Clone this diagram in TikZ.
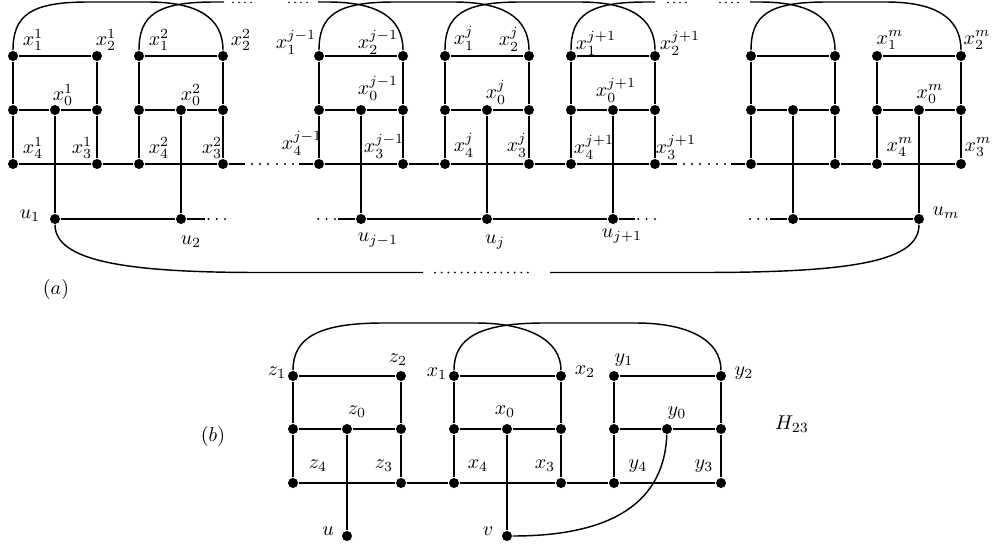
\documentclass[tikz,border=0pt]{standalone}
\tikzset{
  vtx/.style={circle,fill=black,inner sep=0pt,minimum size=5pt},
  lab/.style={inner sep=0pt},
}
% one gadget of the chain in (a): #1 prefix, #2 x of the left column
\newcommand\gadgetA[2]{%
  \node[vtx] (#1-1) at (#2,56) {};
  \node[vtx] (#1-2) at (#2+84,56) {};
  \node[vtx] (#1-l) at (#2,110) {};
  \node[vtx] (#1-0) at (#2+42,110) {};
  \node[vtx] (#1-r) at (#2+84,110) {};
  \node[vtx] (#1-4) at (#2,164) {};
  \node[vtx] (#1-3) at (#2+84,164) {};
  \node[vtx] (#1-u) at (#2+42,219) {};
  \draw (#1-1) -- (#1-2) (#1-1) -- (#1-l) -- (#1-4)
        (#1-2) -- (#1-r) -- (#1-3) (#1-l) -- (#1-0) -- (#1-r)
        (#1-0) -- (#1-u);
}
% one gadget in (b): #1 prefix, #2 left x, #3 middle x, #4 right x
\newcommand\gadgetB[4]{%
  \node[vtx] (#1-1) at (#2,376) {};
  \node[vtx] (#1-2) at (#4,376) {};
  \node[vtx] (#1-l) at (#2,429) {};
  \node[vtx] (#1-0) at (#3,429) {};
  \node[vtx] (#1-r) at (#4,429) {};
  \node[vtx] (#1-4) at (#2,483) {};
  \node[vtx] (#1-3) at (#4,483) {};
  \draw (#1-1) -- (#1-2) (#1-1) -- (#1-l) -- (#1-4)
        (#1-2) -- (#1-r) -- (#1-3) (#1-l) -- (#1-0) -- (#1-r);
}
% a row of dots: #1 first x, #2 y, #3 number of gaps, #4 spacing, #5 radius
\newcommand\dotgroup[5]{%
  \foreach \k in {0,...,#3} \fill (#1+\k*#4,#2) circle (#5);
}
\begin{document}
\begin{tikzpicture}[x=0.5pt,y=-0.5pt,line width=0.72pt]
\useasboundingbox (0,0) rectangle (992,547);

% ---------------- (a) ----------------
\gadgetA{a1}{13}
\gadgetA{a2}{139}
\gadgetA{ajm}{319}
\gadgetA{aj}{445}
\gadgetA{ajp}{571}
\gadgetA{amm}{751}
\gadgetA{am}{877}

% free ends of the cut connectors
\coordinate (ta) at (224,2);
\coordinate (tb) at (318,2);
\coordinate (tc) at (655,2);
\coordinate (td) at (750,2);
\coordinate (ra) at (245,164);
\coordinate (rb) at (299,164);
\coordinate (rc) at (677,164);
\coordinate (rd) at (731,164);
\coordinate (ua) at (205,219);
\coordinate (ub) at (338,219);
\coordinate (uc) at (635,219);
\coordinate (ud) at (770,219);
\coordinate (la) at (423,272.5);
\coordinate (lb) at (550,272.5);

% bottom row
\draw (a1-4) -- (a1-3) -- (a2-4) -- (a2-3) -- (ra);
\draw (rb) -- (ajm-4) -- (ajm-3) -- (aj-4) -- (aj-3) -- (ajp-4) -- (ajp-3) -- (rc);
\draw (rd) -- (amm-4) -- (amm-3) -- (am-4) -- (am-3);
\dotgroup{252}{164}{2}{8}{0.55pt}
\dotgroup{277}{164}{2}{8}{0.55pt}
\dotgroup{684}{164}{2}{8}{0.55pt}
\dotgroup{709}{164}{2}{8}{0.55pt}

% row of the u vertices
\draw (a1-u) -- (a2-u) -- (ua);
\draw (ub) -- (ajm-u) -- (aj-u) -- (ajp-u) -- (uc);
\draw (ud) -- (amm-u) -- (am-u);
\dotgroup{208.5}{219}{2}{8.3}{0.55pt}
\dotgroup{318.3}{219}{2}{8.3}{0.55pt}
\dotgroup{638.3}{219}{2}{8.3}{0.55pt}
\dotgroup{750}{219}{2}{8.3}{0.55pt}

% long connector u_1 ... u_m
\draw (a1-u) .. controls (55,262) and (130,272.5) .. (260,272.5) -- (la);
\draw (lb) -- (700,272.5) .. controls (850,272.5) and (919,262) .. (am-u);
\dotgroup{435}{272.5}{14}{6.64}{0.5pt}

% top arcs x_1^i -- x_2^{i+1}
\draw (a1-1) .. controls (13,15) and (31,2) .. (88,2) -- (148,2)
      .. controls (198,2) and (223,18) .. (a2-2);
\draw (a2-1) .. controls (139,15) and (157,2) .. (214,2) -- (ta);
\draw (tb) -- (328,2) .. controls (378,2) and (403,18) .. (ajm-2);
\draw (ajm-1) .. controls (319,15) and (337,2) .. (394,2) -- (454,2)
      .. controls (504,2) and (529,18) .. (aj-2);
\draw (aj-1) .. controls (445,15) and (463,2) .. (520,2) -- (580,2)
      .. controls (630,2) and (655,18) .. (ajp-2);
\draw (ajp-1) .. controls (571,15) and (589,2) .. (646,2) -- (tc);
\draw (td) -- (760,2) .. controls (810,2) and (835,18) .. (amm-2);
\draw (amm-1) .. controls (751,15) and (769,2) .. (826,2) -- (886,2)
      .. controls (936,2) and (961,18) .. (am-2);
\dotgroup{233}{2.5}{3}{6}{0.4pt}
\dotgroup{289}{2.5}{3}{6}{0.4pt}
\dotgroup{668}{2.5}{3}{6}{0.4pt}
\dotgroup{720}{2.5}{3}{6}{0.4pt}

% labels of (a)
\node[lab] (l-a11) at (33,40) {$x_1^1$};
\node[lab] (l-a12) at (106,40) {$x_2^1$};
\node[lab] (l-a10) at (63,95) {$x_0^1$};
\node[lab] (l-a14) at (33,148) {$x_4^1$};
\node[lab] (l-a13) at (82,148) {$x_3^1$};
\node[lab] (l-a21) at (159,40) {$x_1^2$};
\node[lab] (l-a22) at (241,40) {$x_2^2$};
\node[lab] (l-a20) at (191,95) {$x_0^2$};
\node[lab] (l-a24) at (159,148) {$x_4^2$};
\node[lab] (l-a23) at (212,148) {$x_3^2$};
\node[lab] (l-am1) at (296,42) {$x_1^{j-1}$};
\node[lab] (l-am2) at (378,42) {$x_2^{j-1}$};
\node[lab] (l-am0) at (378,88) {$x_0^{j-1}$};
\node[lab] (l-am4) at (302,143) {$x_4^{j-1}$};
\node[lab] (l-am3) at (384,146) {$x_3^{j-1}$};
\node[lab] (l-aj1) at (464,38) {$x_1^j$};
\node[lab] (l-aj2) at (509,39) {$x_2^j$};
\node[lab] (l-aj0) at (496,92) {$x_0^j$};
\node[lab] (l-aj4) at (464,145) {$x_4^j$};
\node[lab] (l-aj3) at (517,145) {$x_3^j$};
\node[lab] (l-ap1) at (596,43) {$x_1^{j+1}$};
\node[lab] (l-ap2) at (680,43) {$x_2^{j+1}$};
\node[lab] (l-ap0) at (616,90) {$x_0^{j+1}$};
\node[lab] (l-ap4) at (594,147) {$x_4^{j+1}$};
\node[lab] (l-ap3) at (676,147) {$x_3^{j+1}$};
\node[lab] (l-m1) at (890,40) {$x_1^m$};
\node[lab] (l-m2) at (977,40) {$x_2^m$};
\node[lab] (l-m0) at (930,94) {$x_0^m$};
\node[lab] (l-m4) at (900,147) {$x_4^m$};
\node[lab] (l-m3) at (978,147) {$x_3^m$};
\node[lab] (l-u1) at (30,216) {$u_1$};
\node[lab] (l-u2) at (191,242) {$u_2$};
\node[lab] (l-ujm) at (378,240) {$u_{j-1}$};
\node[lab] (l-uj) at (495,242) {$u_j$};
\node[lab] (l-ujp) at (622,236) {$u_{j+1}$};
\node[lab] (l-um) at (946,213) {$u_m$};
\node[lab] (cap-a) at (56,289) {$(a)$};

% ---------------- (b) ----------------
\gadgetB{bz}{293}{347}{401}
\gadgetB{bx}{454}{507}{561}
\gadgetB{by}{614}{667}{721}
\node[vtx] (bu) at (347,536) {};
\node[vtx] (bv) at (507,536) {};

\draw (bz-4) -- (bz-3) -- (bx-4) -- (bx-3) -- (by-4) -- (by-3);
\draw (bz-0) -- (bu);
\draw (bx-0) -- (bv);
\draw (by-0) .. controls (664,510) and (600,536) .. (bv);
\draw (bz-1) .. controls (293,338) and (318,323) .. (383,323) -- (476,323)
      .. controls (528,323) and (561,340) .. (bx-2);
\draw (bx-1) .. controls (454,338) and (479,323) .. (544,323) -- (636,323)
      .. controls (688,323) and (721,340) .. (by-2);

% labels of (b)
\node[lab] (l-z1) at (277,373) {$z_1$};
\node[lab] (l-z2) at (398,360) {$z_2$};
\node[lab] (l-z0) at (357,412) {$z_0$};
\node[lab] (l-z4) at (318,466) {$z_4$};
\node[lab] (l-z3) at (384,466) {$z_3$};
\node[lab] (l-x1) at (437,374) {$x_1$};
\node[lab] (l-x2) at (585,372) {$x_2$};
\node[lab] (l-x0) at (505,412) {$x_0$};
\node[lab] (l-x4) at (478,466) {$x_4$};
\node[lab] (l-x3) at (545,466) {$x_3$};
\node[lab] (l-y1) at (624,360) {$y_1$};
\node[lab] (l-y2) at (744,373) {$y_2$};
\node[lab] (l-y0) at (677,413) {$y_0$};
\node[lab] (l-y4) at (638,466) {$y_4$};
\node[lab] (l-y3) at (704,466) {$y_3$};
\node[lab] (l-u) at (328,531) {$u$};
\node[lab] (l-v) at (488,531) {$v$};
\node[lab] (l-h) at (792,424) {$H_{23}$};
\node[lab] (cap-b) at (213,436) {$(b)$};
\end{tikzpicture}
\end{document}
